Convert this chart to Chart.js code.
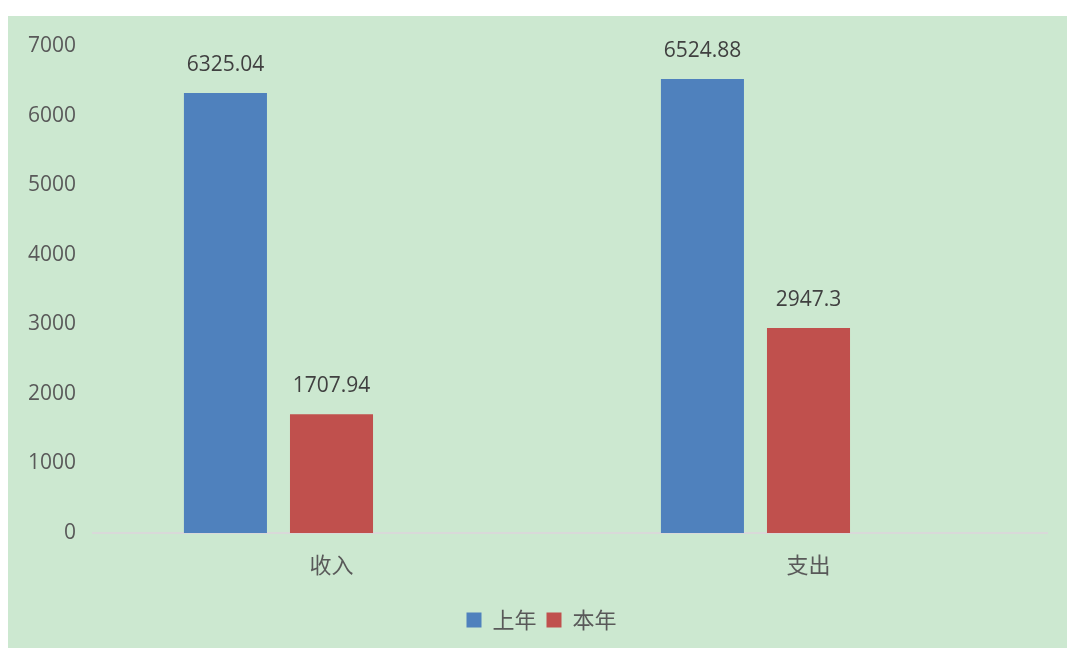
<!DOCTYPE html>
<html>
<head>
<meta charset="utf-8">
<script src="https://cdn.jsdelivr.net/npm/chart.js@4.4.0/dist/chart.umd.min.js"></script>
<style>
    html, body { margin: 0; padding: 0; background: #ffffff; }
    #panel {
        position: absolute;
        left: 8px;
        top: 16px;
        width: 1059px;
        height: 632px;
        background: #cce8d0;
    }
</style>
</head>
<body>
<div id="panel"><canvas id="budget-chart" width="1059" height="632"></canvas></div>
<script>
// --- Data ---
const categories = ['收入', '支出'];
const lastYear = [6325.04, 6524.88];
const thisYear = [1707.94, 2947.3];
// third slot is empty in the source chart, it only reserves space
const emptySlot = [null, null];
const yTicks = [0, 1000, 2000, 3000, 4000, 5000, 6000, 7000];

const numberFont = "'Open Sans', 'Noto Sans', sans-serif";
const cjkFont = "'Noto Sans CJK SC', sans-serif";

// Draw value labels above each bar
const valueLabels = {
    id: 'valueLabels',
    afterDatasetsDraw(chart) {
        const ctx = chart.ctx;
        ctx.save();
        ctx.font = '21px ' + numberFont;
        ctx.fillStyle = '#404040';
        ctx.textAlign = 'center';
        ctx.textBaseline = 'middle';
        chart.data.datasets.forEach((ds, i) => {
            if (i > 1) return;
            chart.getDatasetMeta(i).data.forEach((bar, j) => {
                const v = ds.data[j];
                if (v == null) return;
                ctx.fillText(String(v), bar.x, bar.y - 28);
            });
        });
        ctx.restore();
    }
};

// Legend sits a bit right of the canvas centre in the reference
const legendShift = {
    id: 'legendShift',
    afterLayout(chart) {
        chart.legend.left += 14;
        chart.legend.right += 14;
    }
};

const ctx = document.getElementById('budget-chart').getContext('2d');
const budgetChart = new Chart(ctx, {
    type: 'bar',
    data: {
        labels: categories,
        datasets: [{
            label: '上年',
            data: lastYear,
            backgroundColor: '#4f81bd',
        }, {
            label: '本年',
            data: thisYear,
            backgroundColor: '#c0504d',
        }, {
            label: '',
            data: emptySlot,
            backgroundColor: 'rgba(0,0,0,0)',
        }],
    },
    options: {
        responsive: false,
        animation: false,
        categoryPercentage: 0.667,
        barPercentage: 0.783,
        layout: {
            padding: { top: 30, right: 20, bottom: 7, left: 0 },
        },
        plugins: {
            legend: {
                position: 'bottom',
                labels: {
                    boxWidth: 15,
                    boxHeight: 15,
                    padding: 10,
                    color: '#595959',
                    font: { family: cjkFont, size: 22 },
                    filter: (item) => item.datasetIndex < 2,
                },
            },
            tooltip: { enabled: false },
        },
        scales: {
            y: {
                min: 0,
                max: 7000,
                afterFit(scale) { scale.width = 85; },
                afterBuildTicks(scale) {
                    scale.ticks = yTicks.map(v => ({ value: v }));
                },
                ticks: {
                    padding: 17,
                    color: '#595959',
                    font: { family: numberFont, size: 21 },
                    callback: (v) => String(v),
                },
                grid: { display: false, drawTicks: false },
                border: { display: false },
            },
            x: {
                afterFit(scale) { scale.height = 66; },
                ticks: {
                    padding: 18,
                    color: '#595959',
                    font: { family: cjkFont, size: 22 },
                },
                grid: { display: false, drawTicks: false },
                border: { display: true, color: '#d9d9d9', width: 2 },
            },
        },
    },
    plugins: [valueLabels, legendShift],
});
</script>
</body>
</html>
